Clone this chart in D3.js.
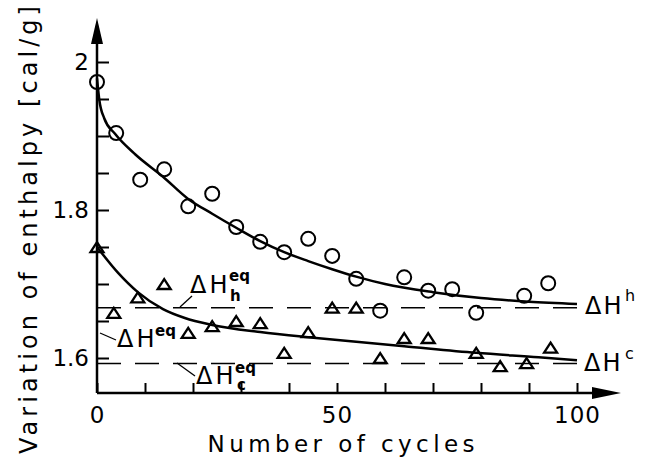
<!DOCTYPE html>
<html><head><meta charset="utf-8">
<script src="https://cdn.jsdelivr.net/npm/d3@7"></script>
<style>
html,body{margin:0;padding:0;background:#fff;}
svg{display:block;}
text{font-family:"DejaVu Sans",sans-serif;fill:#000;}
</style></head>
<body>
<svg id="chart" width="648" height="466"></svg>
<script>
// ---- data ----
const heatX = [0,4,9,14,19,24,29,34,39,44,49,54,59,64,69,74,79,89,94];
const heatY = [1.973,1.904,1.841,1.855,1.805,1.822,1.777,1.757,1.743,1.761,1.738,1.707,1.664,1.709,1.691,1.693,1.661,1.684,1.701];
const coolX = [0,3.5,8.5,14,19,24,29,34,39,44,49,54,59,64,69,79,84,89.5,94.5];
const coolY = [1.75,1.661,1.682,1.70,1.634,1.643,1.65,1.647,1.607,1.635,1.668,1.668,1.60,1.627,1.627,1.607,1.589,1.593,1.614];
const heatFitX = [0,0.5,1.5,3.75,8,13.75,19,24,29,34,39,44,49,54,60,70,80,90,100];
const heatFitY = [1.978,1.948,1.924,1.903,1.875,1.845,1.815,1.795,1.776,1.758,1.743,1.731,1.72,1.71,1.700,1.689,1.681,1.676,1.673];
const coolFitX = [0,4.4,8.5,13.75,18.3,23.75,34,44,54,64,79,92,100];
const coolFitY = [1.75,1.715,1.689,1.666,1.654,1.645,1.635,1.628,1.622,1.616,1.607,1.601,1.597];
const eqHeat = 1.668;
const eqCool = 1.5926;
const xTicks = [0,10,20,30,40,50,60,70,80,90,100];
const xTickLabels = [0,50,100];
const yTicks = [1.6,1.65,1.7,1.75,1.8,1.85,1.9,1.95,2.0];
const yTickLabels = [1.6,1.8,2.0];

const svg = d3.select("#chart");
const x = d3.scaleLinear().domain([0,100]).range([97,577]);
const y = d3.scaleLinear().domain([1.6,2.0]).range([358,62]);
const x0 = x(0), yBase = 393;

// axes
const gx = svg.append("g").attr("transform",`translate(0,${yBase})`)
  .call(d3.axisBottom(x).tickValues(xTicks).tickSize(-10).tickPadding(14)
    .tickFormat(d => xTickLabels.includes(d) ? d3.format("d")(d) : ""));
gx.select(".domain").remove();
gx.selectAll(".tick line").attr("stroke","#000").attr("stroke-width",2);
gx.selectAll(".tick text").attr("font-size",23).attr("dy","0.71em").attr("letter-spacing",1);

const gy = svg.append("g").attr("transform",`translate(${x0},0)`)
  .call(d3.axisLeft(y).tickValues(yTicks).tickSize(-12).tickPadding(8)
    .tickFormat(d => yTickLabels.some(v=>Math.abs(v-d)<1e-9) ? (d===2?"2":d3.format(".1f")(d)) : ""));
gy.select(".domain").remove();
gy.selectAll(".tick line").attr("stroke","#000").attr("stroke-width",2);
gy.selectAll(".tick text").attr("font-size",23);

// axis lines with arrows
svg.append("line").attr("x1",x0).attr("x2",600).attr("y1",yBase).attr("y2",yBase)
  .attr("stroke","#000").attr("stroke-width",2.5);
svg.append("path").attr("d",`M592,${yBase-6}L621,${yBase}L592,${yBase+6}Z`).attr("fill","#000");
svg.append("line").attr("x1",x0).attr("x2",x0).attr("y1",yBase).attr("y2",40)
  .attr("stroke","#000").attr("stroke-width",2.5);
svg.append("path").attr("d",`M${x0-6},44L${x0},18L${x0+6},44Z`).attr("fill","#000");

// dashed equilibrium lines
[eqHeat,eqCool].forEach(v=>{
  svg.append("line").attr("x1",x0).attr("x2",x(100)).attr("y1",y(v)).attr("y2",y(v))
    .attr("stroke","#000").attr("stroke-width",1.6).attr("stroke-dasharray","24,14");
});

// fitted curves
const line = d3.line().x(d=>x(d[0])).y(d=>y(d[1])).curve(d3.curveMonotoneX);
svg.append("path").attr("d",line(heatFitX.map((v,i)=>[v,heatFitY[i]])))
  .attr("fill","none").attr("stroke","#000").attr("stroke-width",2.5);
svg.append("path").attr("d",line(coolFitX.map((v,i)=>[v,coolFitY[i]])))
  .attr("fill","none").attr("stroke","#000").attr("stroke-width",2.5);

// markers
svg.append("g").selectAll("circle").data(heatX.map((v,i)=>[v,heatY[i]])).join("circle")
  .attr("cx",d=>x(d[0])).attr("cy",d=>y(d[1])).attr("r",7)
  .attr("fill","none").attr("stroke","#000").attr("stroke-width",2);
svg.append("g").selectAll("path").data(coolX.map((v,i)=>[v,coolY[i]])).join("path")
  .attr("d",d=>{const cx=x(d[0]),cy=y(d[1]);return `M${cx-6.5},${cy+5}L${cx+6.5},${cy+5}L${cx},${cy-5}Z`;})
  .attr("fill","none").attr("stroke","#000").attr("stroke-width",2.3).attr("stroke-linejoin","miter");

// labels
function lab(xp,yp,txt,fs,bold,ls){
  return svg.append("text").attr("x",xp).attr("y",yp).attr("font-size",fs)
    .attr("font-weight",bold?"bold":"normal").attr("letter-spacing",ls===undefined?(bold?0:3):ls).text(txt);
}
// ΔH_h^eq
lab(190,293,"ΔH",24,false);
lab(229,281,"eq",15,true);
lab(230,301,"h",15,true);
svg.append("line").attr("x1",192).attr("y1",296).attr("x2",180).attr("y2",307).attr("stroke","#000").attr("stroke-width",1.3);
// ΔH^eq
lab(117,347,"ΔH",24,false);
lab(155,336,"eq",15,true);
svg.append("line").attr("x1",100).attr("y1",333).attr("x2",116).attr("y2",340).attr("stroke","#000").attr("stroke-width",1.3);
// ΔH_c^eq
lab(196,384,"ΔH",24,false);
lab(235,373,"eq",15,true);
lab(237,390,"c",15,true);
svg.append("line").attr("x1",177).attr("y1",363).attr("x2",195).attr("y2",376).attr("stroke","#000").attr("stroke-width",1.3);
// ΔH^h, ΔH^c
lab(585,314,"ΔH",24,false,2);
lab(625,301,"h",16,false,0);
lab(584,371,"ΔH",24,false,2);
lab(625,359,"c",16,false,0);

// axis titles
svg.append("text").attr("x",341).attr("y",452).attr("text-anchor","middle")
  .attr("font-size",23).attr("textLength",267).attr("lengthAdjust","spacing").text("Number of cycles");
svg.append("text").attr("transform","translate(37,230) rotate(-90)").attr("text-anchor","middle")
  .attr("font-size",24).attr("textLength",448).attr("lengthAdjust","spacing").text("Variation of enthalpy [cal/g]");
</script>
</body></html>
